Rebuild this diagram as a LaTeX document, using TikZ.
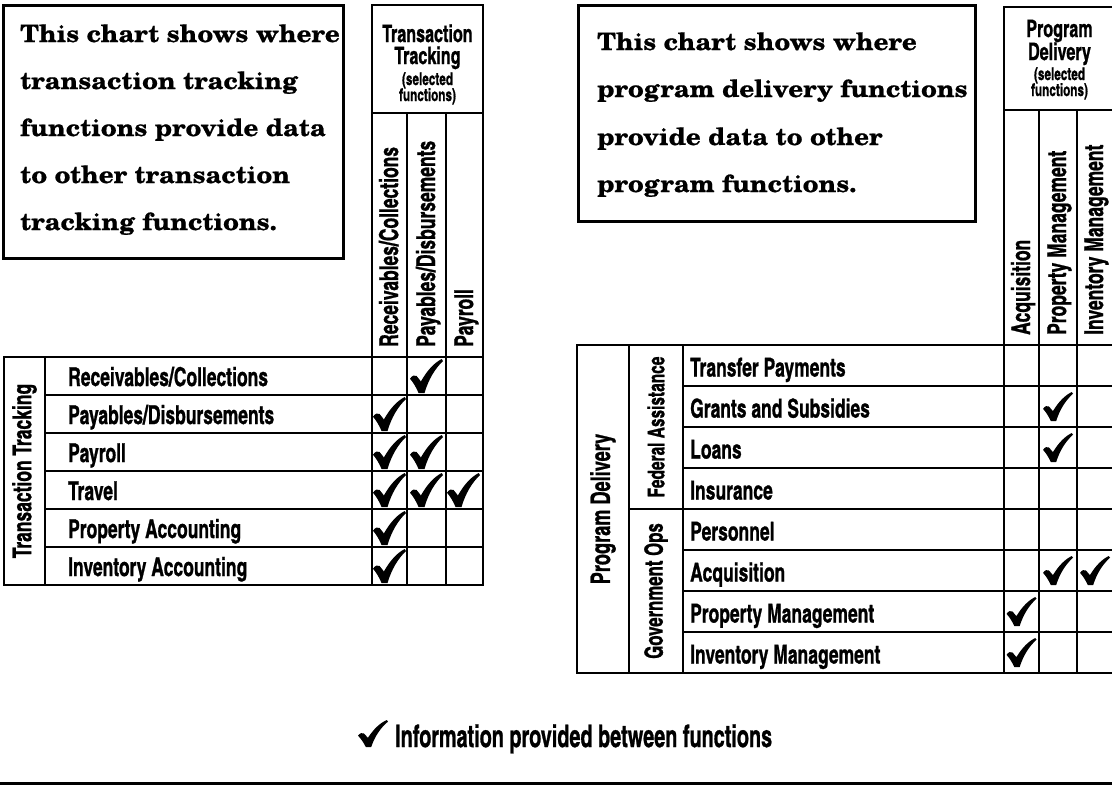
\documentclass[tikz,border=0pt]{standalone}
\usepackage{fontspec}
\newfontfamily\schola[FakeStretch=1.08, FakeBold=0.6]{texgyreschola-bold.otf}
\newfontfamily\cond[FakeStretch=0.82, FakeBold=0.8]{texgyreheroscn-bold.otf}
\newfontfamily\condlegend[FakeStretch=0.78, FakeBold=0.8]{texgyreheroscn-bold.otf}

\begin{document}
\begin{tikzpicture}[x=1pt, y=-1pt, line cap=rect,
  rule/.style={line width=2.4pt},
  frame/.style={line width=3pt},
  blurb/.style={anchor=base west, inner sep=0pt, font=\schola\fontsize{24}{28}\selectfont},
  rowlab/.style={anchor=base west, inner sep=0pt, font=\cond\fontsize{26}{30}\selectfont},
  collab/.style={anchor=base west, inner sep=0pt, rotate=90, font=\cond\fontsize{26}{30}\selectfont},
  grplab/.style={anchor=center, inner sep=0pt, rotate=90, font=\cond\fontsize{#1}{30}\selectfont},
  grplab/.default=26,
  headbig/.style={anchor=base, inner sep=0pt, font=\cond\fontsize{24}{26}\selectfont},
  headsmall/.style={anchor=base, inner sep=0pt, font=\cond\fontsize{17.5}{20}\selectfont},
  legendtxt/.style={anchor=base west, inner sep=0pt, font=\condlegend\fontsize{31}{34}\selectfont},
  chk/.pic={
    \fill (-0.50,0.08) .. controls (-0.43,-0.02) and (-0.36,-0.04) .. (-0.30,0.00)
      -- (-0.17,0.16) .. controls (0.02,-0.16) and (0.22,-0.38) .. (0.46,-0.50)
      -- (0.50,-0.44) .. controls (0.26,-0.22) and (0.06,0.10) .. (-0.06,0.50)
      -- (-0.24,0.50) .. controls (-0.32,0.32) and (-0.41,0.18) .. (-0.50,0.08) -- cycle;
  }]
\useasboundingbox (0,0) rectangle (1112,785);

% ---------- left explanatory box ----------
\draw[frame] (3,5) rectangle (343,258);
\node[blurb] (lt1) at (20,42)  {This chart shows where};
\node[blurb] (lt2) at (20,89)  {transaction tracking};
\node[blurb] (lt3) at (20,136) {functions provide data};
\node[blurb] (lt4) at (20,183) {to other transaction};
\node[blurb] (lt5) at (20,230) {tracking functions.};

% ---------- left matrix: grid ----------
\draw[rule] (372,5) rectangle (483,113);
\draw[rule] (372,113) -- (372,585);
\draw[rule] (407,113) -- (407,585);
\draw[rule] (446,113) -- (446,585);
\draw[rule] (483,113) -- (483,585);
\draw[rule] (4,357) rectangle (483,585);
\draw[rule] (45,357) -- (45,585);
\foreach \r in {1,...,5} \draw[rule] (45,357+38*\r) -- (483,357+38*\r);

% left matrix: header texts
\node[headbig]   (lh1) at (427.5,42)  {Transaction};
\node[headbig]   (lh2) at (427.5,64)  {Tracking};
\node[headsmall] (lh3) at (427.5,85)  {(selected};
\node[headsmall] (lh4) at (427.5,101) {functions)};

\node[collab] (lc1) at (398,347) {Receivables/Collections};
\node[collab] (lc2) at (435,347) {Payables/Disbursements};
\node[collab] (lc3) at (473,347) {Payroll};

\node[grplab] (lg) at (24.5,471) {Transaction Tracking};

\foreach \t [count=\i from 0] in {Receivables/Collections,Payables/Disbursements,Payroll,Travel,Property Accounting,Inventory Accounting}
  \node[rowlab] (lr\i) at (68,386+38*\i) {\t};

% left matrix: marks (row, column)
\foreach \r/\c in {0/2,1/1,2/1,2/2,3/1,3/2,3/3,4/1,5/1}
  \pic[xscale=33,yscale=34] at ({352.5+37*\c},{376+38*\r}) {chk};

% ---------- right explanatory box ----------
\draw[frame] (578,5) rectangle (975,221);
\node[blurb] (rt1) at (597,50)  {This chart shows where};
\node[blurb] (rt2) at (597,97)  {program delivery functions};
\node[blurb] (rt3) at (597,145) {provide data to other};
\node[blurb] (rt4) at (597,192) {program functions.};

% ---------- right matrix: grid ----------
\draw[rule] (1004,7) rectangle (1116,110);
\draw[rule] (1004,110) -- (1004,673);
\draw[rule] (1039,110) -- (1039,673);
\draw[rule] (1077,110) -- (1077,673);
\draw[rule] (577,345) rectangle (1116,673);
\draw[rule] (629,345) -- (629,673);
\draw[rule] (683,345) -- (683,673);
\draw[rule] (629,509) -- (1116,509);
\foreach \r in {1,2,3,5,6,7} \draw[rule] (683,345+41*\r) -- (1116,345+41*\r);

% right matrix: header texts
\node[headbig]   (rh1) at (1059.5,37) {Program};
\node[headbig]   (rh2) at (1059.5,60) {Delivery};
\node[headsmall] (rh3) at (1059.5,80) {(selected};
\node[headsmall] (rh4) at (1059.5,96) {functions)};

\node[collab] (rc1) at (1030,335) {Acquisition};
\node[collab] (rc2) at (1066,335) {Property Management};
\node[collab] (rc3) at (1103,335) {Inventory Management};

\node[grplab=27] (rg)  at (603,509) {Program Delivery};
\node[grplab=23] (rs1) at (656,427) {Federal Assistance};
\node[grplab=25] (rs2) at (656,591) {Government Ops};

\foreach \t [count=\i from 0] in {Transfer Payments,Grants and Subsidies,Loans,Insurance,Personnel,Acquisition,Property Management,Inventory Management}
  \node[rowlab] (rr\i) at (690,376.5+41*\i) {\t};

% right matrix: marks (row, column)
\foreach \r/\c/\x in {1/2/1058,2/2/1058,5/2/1058,5/3/1095,6/1/1021.5,7/1/1021.5}
  \pic[xscale=30,yscale=29] at (\x,{365.5+41*\r}) {chk};

% ---------- legend ----------
\pic[xscale=30,yscale=27] at (373,733.5) {chk};
\node[legendtxt] (leg) at (395,747) {Information provided between functions};
\draw[line width=3.5pt] (0,783.5) -- (1112,783.5);
\end{tikzpicture}
\end{document}
